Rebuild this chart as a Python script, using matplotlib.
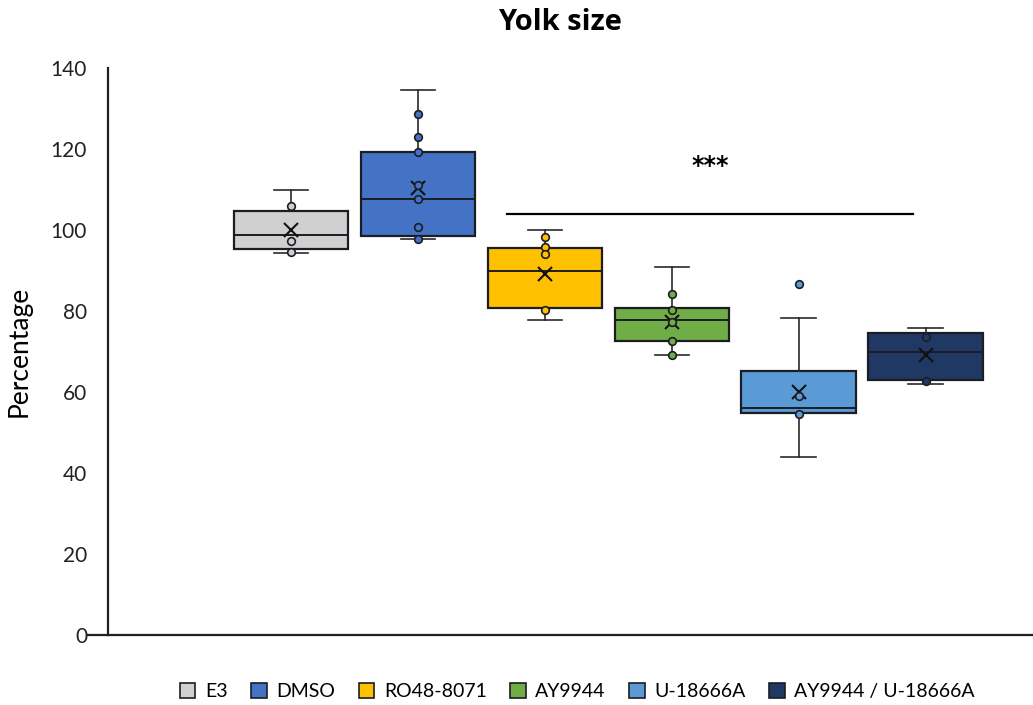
import matplotlib
matplotlib.use("Agg")
import matplotlib.pyplot as plt
from matplotlib.patches import Patch
from matplotlib.lines import Line2D

groups = ["E3", "DMSO", "RO48-8071", "AY9944", "U-18666A", "AY9944 / U-18666A"]
colors = ["#D0D0D0", "#4472C4", "#FFC000", "#70AD47", "#5B9BD5", "#203864"]

# box statistics per group
q1 = [95.3, 98.5, 80.7, 72.7, 54.7, 63.0]
medians = [98.8, 107.7, 90.0, 77.8, 56.1, 69.8]
q3 = [104.7, 119.3, 95.5, 80.7, 65.3, 74.5]
whislo = [94.3, 97.8, 77.8, 69.1, 44.0, 62.1]
whishi = [109.9, 134.6, 99.9, 90.9, 78.2, 75.7]
means = [100.0, 110.4, 89.1, 77.4, 60.1, 69.1]

# individual points shown on each box
points = [
    [106.0, 97.4, 94.6],
    [128.7, 122.9, 119.3, 111.0, 107.7, 100.7, 97.8],
    [98.4, 95.9, 94.0, 80.2],
    [84.1, 80.2, 77.4, 72.7, 69.1],
    [86.7, 59.1, 54.6],
    [73.7, 62.6],
]

sig_label = "***"
sig_y = 103.9
sig_text_y = 115.8

EDGE = "#1c1c24"

fig = plt.figure(figsize=(10.33, 7.05), dpi=100)
ax = fig.add_axes([0.1045, 0.0993, 0.8955, 0.8042])

stats = []
for i, g in enumerate(groups):
    stats.append(dict(label=g, q1=q1[i], med=medians[i], q3=q3[i],
                      whislo=whislo[i], whishi=whishi[i], mean=means[i],
                      fliers=[]))

pos = list(range(len(groups)))
bp = ax.bxp(stats, positions=pos, widths=0.9, patch_artist=True,
            showmeans=True, capwidths=0.27,
            boxprops=dict(edgecolor=EDGE, linewidth=1.6),
            medianprops=dict(color=EDGE, linewidth=1.4),
            whiskerprops=dict(color="#2a2a2a", linewidth=1.2),
            capprops=dict(color="#2a2a2a", linewidth=1.2),
            meanprops=dict(marker="x", markeredgecolor="#111111",
                           markersize=10, markeredgewidth=1.5),
            zorder=2)
for patch, c in zip(bp["boxes"], colors):
    patch.set_facecolor(c)

for i, vals in enumerate(points):
    ax.plot([pos[i]] * len(vals), vals, linestyle="none", marker="o",
            markersize=5.5, markerfacecolor=colors[i],
            markeredgecolor=EDGE, markeredgewidth=1.2, zorder=4)

# significance bar over the treated groups
ax.plot([pos[2] - 0.3, pos[5] - 0.1], [sig_y, sig_y], color="black", lw=1.6)
ax.text((pos[2] - 0.3 + pos[5] - 0.1) / 2, sig_text_y, sig_label,
        ha="center", va="center", fontsize=17, fontweight="bold",
        family="DejaVu Sans")

ax.set_xlim(-1.442, 5.847)
ax.set_ylim(0, 140)
ax.set_yticks(range(0, 141, 20))
ax.set_xticks([])
for s in ["top", "right"]:
    ax.spines[s].set_visible(False)
for s in ["left", "bottom"]:
    ax.spines[s].set_linewidth(1.6)
    ax.spines[s].set_color("#202020")
ax.tick_params(axis="y", length=0, pad=15, labelsize=15, labelcolor="#222222")
for lbl in ax.get_yticklabels():
    lbl.set_family("Lato")
# short extension of the baseline to the left of the axis
ax.add_line(Line2D([-0.022, 0], [0, 0], transform=ax.transAxes, color="#202020",
                   lw=1.6, clip_on=False))

ax.set_ylabel("Percentage", fontsize=19, family="Lato", labelpad=14)
fig.text(0.542, 0.968, "Yolk size", ha="center", va="center", fontsize=21,
         fontweight="bold", family="Open Sans")

handles = [Patch(facecolor=c, edgecolor=EDGE, linewidth=1.2) for c in colors]
fig.legend(handles, groups, loc="center", bbox_to_anchor=(0.559, 0.019),
           ncol=6, frameon=False, prop=dict(family="Lato", size=14),
           handlelength=0.8, handleheight=0.8, handletextpad=0.5,
           columnspacing=1.2)

fig.savefig("out.png", dpi=100)
